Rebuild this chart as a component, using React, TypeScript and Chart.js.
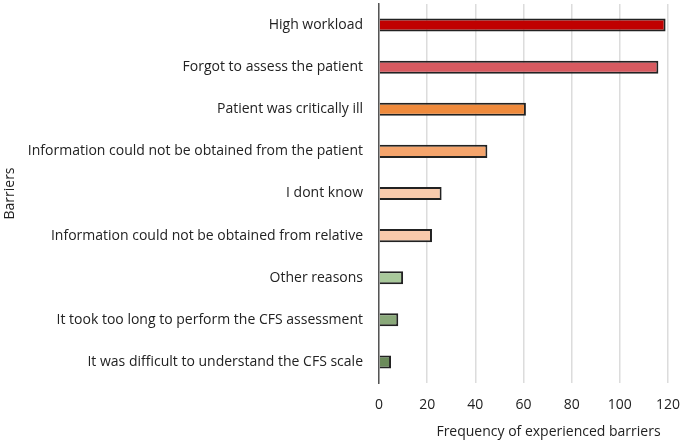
import React, { useEffect, useRef } from "react";
import { Chart, registerables } from "chart.js";

Chart.register(...registerables);

const categories = [
  "High workload",
  "Forgot to assess the patient",
  "Patient was critically ill",
  "Information could not be obtained from the patient",
  "I dont know",
  "Information could not be obtained from relative",
  "Other reasons",
  "It took too long to perform the CFS assessment",
  "It was difficult to understand the CFS scale",
];

const frequencies = [119, 116, 61, 45, 26, 22, 10, 8, 5];

const barColors = [
  "#c00000",
  "#d75a60",
  "#ef8a3c",
  "#f4a46c",
  "#f9cbad",
  "#f8c9ab",
  "#a9c99b",
  "#8aa97a",
  "#6b8b5a",
];

const xTitle = "Frequency of experienced barriers";
const yTitle = "Barriers";

export default function App() {
  const ref = useRef<HTMLCanvasElement | null>(null);

  useEffect(() => {
    document.body.style.margin = "0";
    const font = "'Open Sans', sans-serif";
    const xTitlePlugin = {
      id: "xTitlePlugin",
      afterDraw(chart: any) {
        const ctx = chart.ctx;
        const area = chart.chartArea;
        ctx.save();
        ctx.font = `14px ${font}`;
        ctx.fillStyle = "#222";
        ctx.textAlign = "center";
        ctx.textBaseline = "middle";
        ctx.fillText(xTitle, (area.left + area.right) / 2 + 25, chart.height - 11);
        ctx.restore();
      },
    };
    const chart = new Chart(ref.current!, {
      type: "bar",
      data: {
        labels: categories,
        datasets: [
          {
            data: frequencies,
            backgroundColor: barColors,
            borderColor: "#222",
            borderWidth: 2,
            barPercentage: 0.31,
            categoryPercentage: 1,
          },
        ],
      },
      options: {
        indexAxis: "y",
        animation: false,
        responsive: false,
        layout: { padding: { top: 4, right: 17, left: 0, bottom: 0 } },
        plugins: { legend: { display: false }, tooltip: { enabled: false } },
        scales: {
          x: {
            min: 0,
            max: 120,
            ticks: { stepSize: 20, color: "#222", font: { family: font, size: 14 }, padding: 0 },
            grid: { color: "#dcdcdc", lineWidth: 1.5, drawTicks: true, tickLength: 14, tickColor: "rgba(0,0,0,0)" },
            border: { display: false },
            title: { display: false, text: xTitle },
            afterFit: (scale: any) => {
              scale.height = 60;
            },
          },
          y: {
            ticks: { color: "#222", font: { family: font, size: 14, lineHeight: 0.5 }, padding: 0 },
            grid: { display: false, drawTicks: true, tickLength: 16 },
            border: { display: true, color: "#555", width: 1.5 },
            title: { display: true, text: yTitle, color: "#222", font: { family: font, size: 14 }, padding: { top: 2, bottom: 0 } },
            afterFit: (scale: any) => {
              scale.width = 379;
            },
          },
        },
      },
      plugins: [xTitlePlugin],
    });
    return () => chart.destroy();
  }, []);

  return <canvas ref={ref} width={685} height={443} style={{ display: "block" }} />;
}
